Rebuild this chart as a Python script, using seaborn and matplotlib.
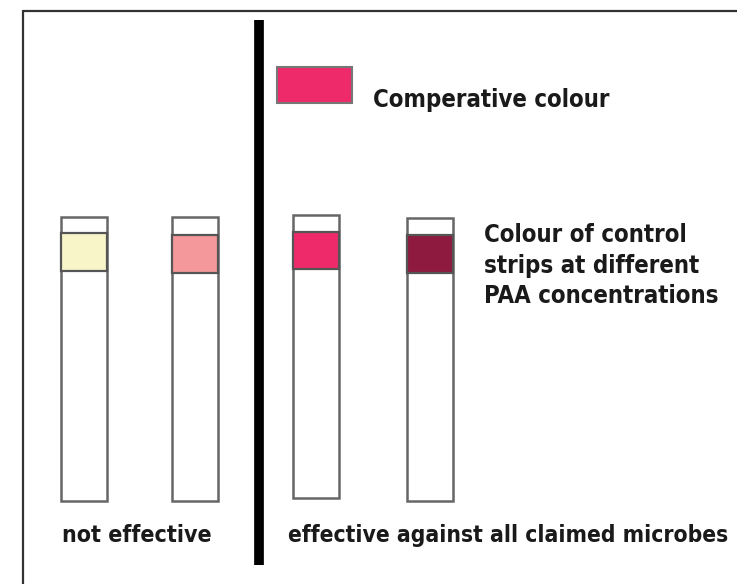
import matplotlib
matplotlib.use("Agg")
import matplotlib.pyplot as plt
import matplotlib.font_manager as fm
import seaborn as sns

sns.set_style("white")

# strip colours (left to right) and the comparative colour
strip_colors = ["#f8f5c8", "#f4989c", "#ee2a6b", "#8e1b3f"]
compare_color = "#ee2a6b"

label_compare = "Comperative colour"
label_control = ["Colour of control", "strips at different", "PAA concentrations"]
label_left = "not effective"
label_right = "effective against all claimed microbes"

# pick a narrow bold face if there is one
names = {f.name for f in fm.fontManager.ttflist}
family = "Liberation Sans Narrow" if "Liberation Sans Narrow" in names else "DejaVu Sans"
plt.rcParams["font.family"] = [family, "DejaVu Sans"]

fig = plt.figure(figsize=(7.37, 5.84), dpi=100)
ax = fig.add_axes([0, 0, 1, 1])
ax.set_xlim(0, 737)
ax.set_ylim(584, 0)
ax.axis("off")

# frame (top + left) and divider
ax.plot([23, 737], [11, 11], color="#333333", lw=1.6)
ax.plot([23, 23], [11, 584], color="#333333", lw=1.6)
ax.plot([259.5, 259.5], [20, 565], color="black", lw=7, solid_capstyle="butt")

# strips: outer white strip, coloured pad near the top
strip_left = [61, 172, 293, 407]
strip_top = [217, 217, 215, 218]
strip_bot = [501, 501, 498, 501]
pad_top = [233, 235, 232, 235]
pad_bot = [271, 273, 269, 273]
w = 46
for i, c in enumerate(strip_colors):
    ax.bar(strip_left[i], strip_bot[i] - strip_top[i], width=w, bottom=strip_top[i],
           align="edge", color="white", edgecolor="#666666", lw=1.8)
    ax.bar(strip_left[i], pad_bot[i] - pad_top[i], width=w, bottom=pad_top[i],
           align="edge", color=c, edgecolor="#555555", lw=1.6)

ax.bar(277, 36, width=75, bottom=67, align="edge", color=compare_color,
       edgecolor="#777777", lw=1.5)

fig.canvas.draw()
renderer = fig.canvas.get_renderer()


def fit_text(s, x, y, width, size=20):
    t = ax.text(x, y, s, fontsize=size, fontweight="bold", fontstretch="condensed",
                ha="left", va="baseline", color="#1a1a1a")
    bb = t.get_window_extent(renderer)
    t.set_fontsize(size * width / bb.width)
    return t


t = fit_text(label_control[2], 484, 303, 236)
fs = t.get_fontsize()
for s, y in zip(label_control[:2], [242, 273]):
    ax.text(484, y, s, fontsize=fs, fontweight="bold", fontstretch="condensed",
            ha="left", va="baseline", color="#1a1a1a")
ax.text(373, 107, label_compare, fontsize=fs, fontweight="bold", fontstretch="condensed",
        ha="left", va="baseline", color="#1a1a1a")
fit_text(label_left, 62, 542, 150)
fit_text(label_right, 288, 542, 440)

fig.savefig("out.png", dpi=100)
